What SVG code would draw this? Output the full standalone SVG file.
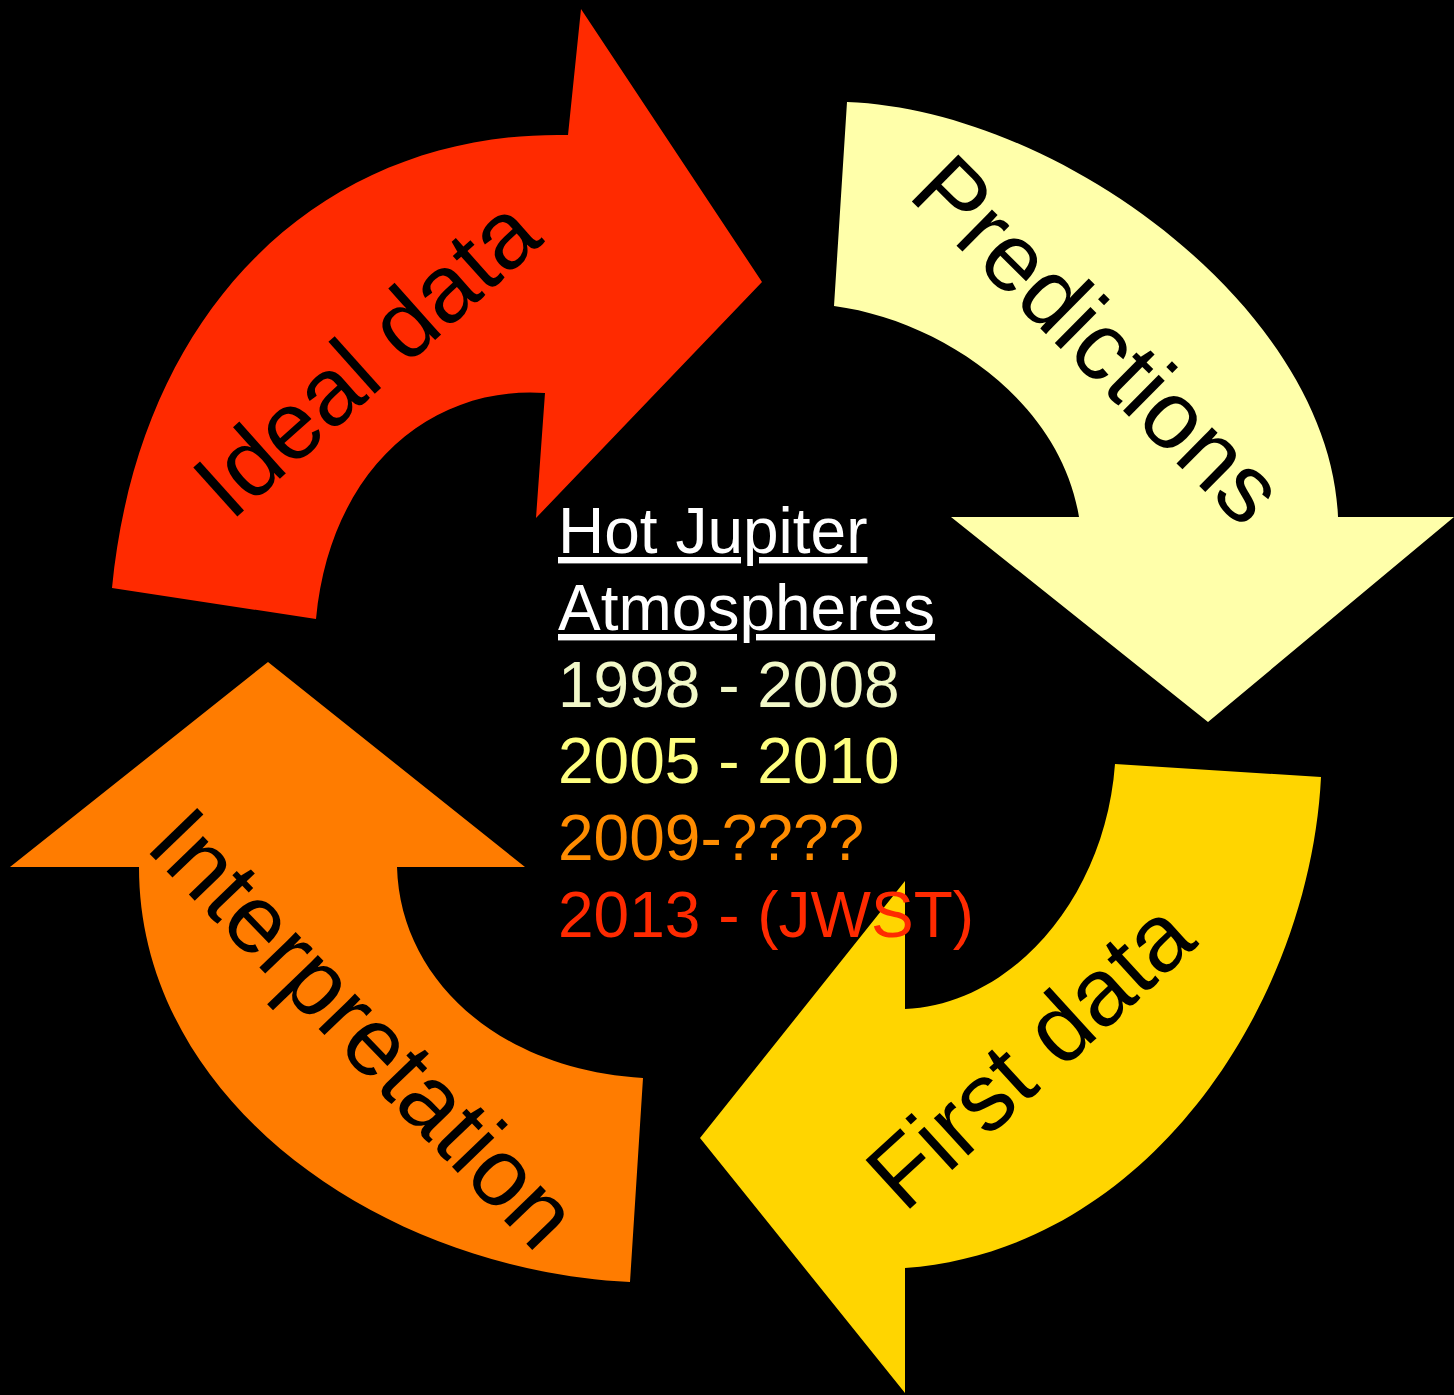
<svg xmlns="http://www.w3.org/2000/svg" width="1454" height="1395" viewBox="0 0 1454 1395">
<style>
.lbl{font-family:"Liberation Sans",Arial,sans-serif;font-size:96px;fill:#000;text-anchor:middle}
.ctr{font-family:"Liberation Sans",Arial,sans-serif;font-size:64px}
</style>
<rect width="1454" height="1395" fill="#000"/>
<g id="connectors"></g>
<g id="ideal-data">
<path d="M112,588 C140,300 330,130 568,135 L581,9 L762,282 L536,518 L545,393 C430,385 330,470 316,619 Z" fill="#FF2A00"/>
<text class="lbl" x="388" y="382" transform="rotate(-41.8 388 382)">Ideal data</text>
</g>
<g id="predictions">
<path d="M847,102 C1060,110 1330,310 1338,517 L1454,517 L1208,722 L951,517 L1079,517 C1060,400 940,320 834,306 Z" fill="#FFFFAA"/>
<text class="lbl" x="1075" y="363" transform="rotate(44.7 1075 363)">Predictions</text>
</g>
<g id="first-data">
<path d="M1321,777 C1310,1000 1150,1250 905,1268 L905,1393 L700,1138 L905,881 L905,1009 C1010,1005 1105,900 1115,764 Z" fill="#FFD500"/>
<text class="lbl" x="1052" y="1079" transform="rotate(-42.4 1052 1079)">First data</text>
</g>
<g id="interpretation">
<path d="M630,1282 C380,1270 139,1100 139,867 L10,867 L268,662 L525,867 L397,867 C400,980 500,1070 643,1078 Z" fill="#FF7C00"/>
<text class="lbl" x="340" y="1051" transform="rotate(46 340 1051)">Interpretation</text>
</g>
<g id="center-text">
<text class="ctr" x="558" y="553" fill="#FFFFFF" text-decoration="underline">Hot Jupiter</text>
<text class="ctr" x="558" y="630" fill="#FFFFFF" text-decoration="underline">Atmospheres</text>
<text class="ctr" x="558" y="707" fill="#F2F8C8">1998 - 2008</text>
<text class="ctr" x="558" y="783" fill="#FFFF80">2005 - 2010</text>
<text class="ctr" x="558" y="860" fill="#FF8C00">2009-????</text>
<text class="ctr" x="558" y="937" fill="#FF2A00">2013 - (JWST)</text>
</g>
</svg>
